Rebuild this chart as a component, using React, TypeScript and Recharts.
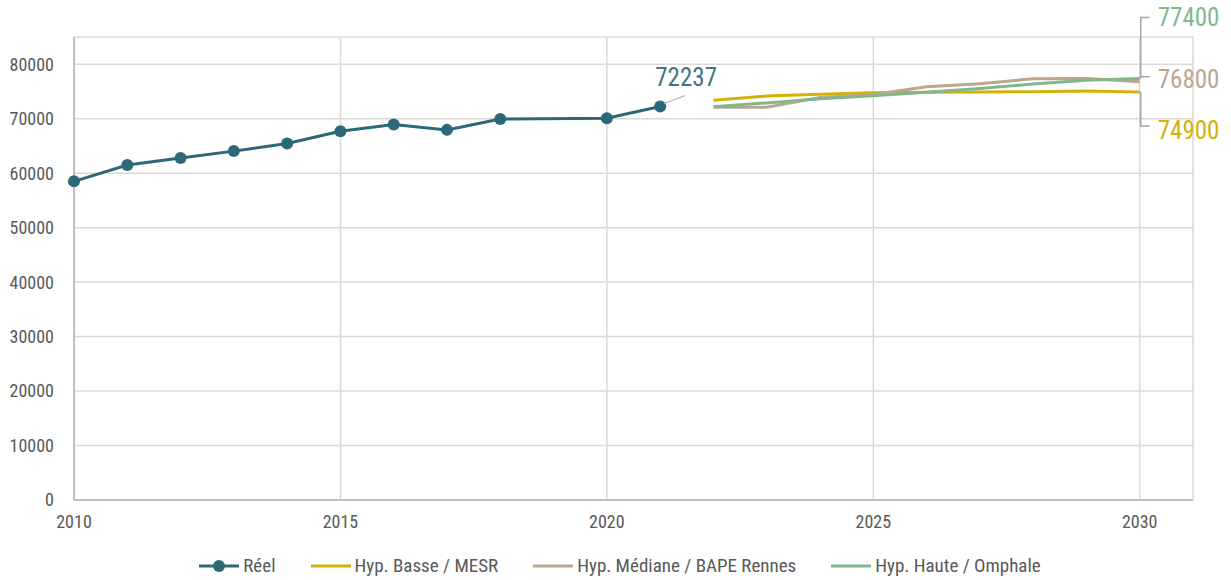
import React from "react";
import {
  LineChart,
  Line,
  XAxis,
  YAxis,
  CartesianGrid,
  Legend,
  LabelList,
} from "recharts";

const years = [2010, 2011, 2012, 2013, 2014, 2015, 2016, 2017, 2018, 2019, 2020, 2021, 2022, 2023, 2024, 2025, 2026, 2027, 2028, 2029, 2030];
const reelValues = [58500, 61500, 62800, 64050, 65450, 67700, 68950, 67950, 69950, null, 70100, 72237, null, null, null, null, null, null, null, null, null];
const projYears = [2022, 2023, 2024, 2025, 2026, 2027, 2028, 2029, 2030];
const basseValues = [73400, 74150, 74500, 74750, 74850, 74900, 74950, 75100, 74900];
const medianeValues = [72100, 72100, 73900, 74450, 75850, 76400, 77350, 77400, 76800];
const hauteValues = [72200, 72900, 73650, 74200, 74850, 75550, 76350, 77050, 77400];
const xTicks = [2010, 2015, 2020, 2025, 2030];
const yTicks = [0, 10000, 20000, 30000, 40000, 50000, 60000, 70000, 80000];

const names = {
  reel: "Réel",
  basse: "Hyp. Basse / MESR",
  mediane: "Hyp. Médiane / BAPE Rennes",
  haute: "Hyp. Haute / Omphale",
};
const colors = {
  reel: "#2c6878",
  basse: "#d4b106",
  mediane: "#bba68e",
  haute: "#82b78e",
};

const data = years.map((year, i) => {
  const j = projYears.indexOf(year);
  return {
    year,
    reel: reelValues[i],
    basse: j >= 0 ? basseValues[j] : null,
    mediane: j >= 0 ? medianeValues[j] : null,
    haute: j >= 0 ? hauteValues[j] : null,
  };
});

const FONT = "'Roboto Condensed', 'Liberation Sans Narrow', 'Arial Narrow', Roboto, sans-serif";
const lastIdx = years.length - 1;
const reelLastIdx = years.indexOf(2021);

const ReelLabel = (props: any) => {
  const { x, y, index, value } = props;
  if (index !== reelLastIdx || value == null) return null;
  return (
    <g>
      <line x1={x + 4} y1={y - 3} x2={x + 25} y2={y - 11} stroke="#b0b0b0" strokeWidth={1.2} />
      <text x={x + 26} y={y - 21} textAnchor="middle" fill="#3f7482" fontSize={25} fontFamily={FONT}>
        {value}
      </text>
    </g>
  );
};

const makeEndLabel = (kind: "haute" | "mediane" | "basse") => (props: any) => {
  const { x, y, index, value } = props;
  if (index !== lastIdx || value == null) return null;
  const color = colors[kind];
  let ty = y;
  let textY = y;
  let path = "";
  if (kind === "haute") {
    ty = y - 61;
    textY = ty;
    path = `M${x + 1},${y} L${x + 1},${ty} L${x + 10},${ty}`;
  } else if (kind === "basse") {
    ty = y + 34;
    textY = ty + 4;
    path = `M${x + 1},${y} L${x + 1},${ty} L${x + 10},${ty}`;
  } else {
    ty = y - 5;
    textY = ty + 2;
    path = `M${x + 1},${ty} L${x + 10},${ty}`;
  }
  return (
    <g>
      <path d={path} fill="none" stroke="#a6a6a6" strokeWidth={1.5} />
      <text x={x + 18} y={textY + 9} textAnchor="start" fill={color} fontSize={25} fontFamily={FONT}>
        {value}
      </text>
    </g>
  );
};

const LegendContent = () => {
  const items: Array<keyof typeof names> = ["reel", "basse", "mediane", "haute"];
  return (
    <div style={{ display: "flex", justifyContent: "center", alignItems: "center", fontFamily: FONT, fontSize: 19, color: "#595959", paddingLeft: 32 }}>
      {items.map((k) => (
        <div key={k} style={{ display: "flex", alignItems: "center", marginLeft: 17, marginRight: 17 }}>
          <svg width={42} height={14} style={{ marginRight: 3 }}>
            <line x1={1} y1={7} x2={41} y2={7} stroke={colors[k]} strokeWidth={3} />
            {k === "reel" && <circle cx={21} cy={7} r={6} fill={colors[k]} />}
          </svg>
          <span>{names[k]}</span>
        </div>
      ))}
    </div>
  );
};

export default function App() {
  return (
    <div style={{ position: "absolute", left: 0, top: 0, width: 1231, height: 580, background: "#fff" }}>
      <LineChart
        width={1231}
        height={580}
        data={data}
        margin={{ top: 37, right: 38, left: 14, bottom: 19 }}
      >
        <CartesianGrid stroke="#d9d9d9" strokeWidth={1.5} />
        <XAxis
          dataKey="year"
          type="number"
          domain={[2010, 2031]}
          ticks={xTicks}
          tickLine={false}
          axisLine={{ stroke: "#bfbfbf", strokeWidth: 2 }}
          tick={{ fill: "#595959", fontSize: 18, fontFamily: FONT }}
          height={38}
          tickMargin={9}
        />
        <YAxis
          type="number"
          domain={[0, 85000]}
          ticks={yTicks}
          tickLine={false}
          axisLine={{ stroke: "#bfbfbf", strokeWidth: 2 }}
          tick={{ fill: "#595959", fontSize: 18, fontFamily: FONT }}
          width={60}
          tickMargin={14}
          allowDataOverflow
        />
        <Legend verticalAlign="bottom" content={<LegendContent />} wrapperStyle={{ bottom: 3 }} />
        <Line
          dataKey="reel"
          name={names.reel}
          stroke={colors.reel}
          strokeWidth={3}
          connectNulls
          dot={{ r: 6, fill: colors.reel, stroke: colors.reel, strokeWidth: 0 }}
          activeDot={false}
          isAnimationActive={false}
        >
          <LabelList dataKey="reel" content={<ReelLabel />} />
        </Line>
        <Line
          dataKey="basse"
          name={names.basse}
          stroke={colors.basse}
          strokeWidth={3}
          dot={false}
          activeDot={false}
          isAnimationActive={false}
        >
          <LabelList dataKey="basse" content={makeEndLabel("basse")} />
        </Line>
        <Line
          dataKey="mediane"
          name={names.mediane}
          stroke={colors.mediane}
          strokeWidth={3}
          dot={false}
          activeDot={false}
          isAnimationActive={false}
        >
          <LabelList dataKey="mediane" content={makeEndLabel("mediane")} />
        </Line>
        <Line
          dataKey="haute"
          name={names.haute}
          stroke={colors.haute}
          strokeWidth={3}
          dot={false}
          activeDot={false}
          isAnimationActive={false}
        >
          <LabelList dataKey="haute" content={makeEndLabel("haute")} />
        </Line>
      </LineChart>
    </div>
  );
}
